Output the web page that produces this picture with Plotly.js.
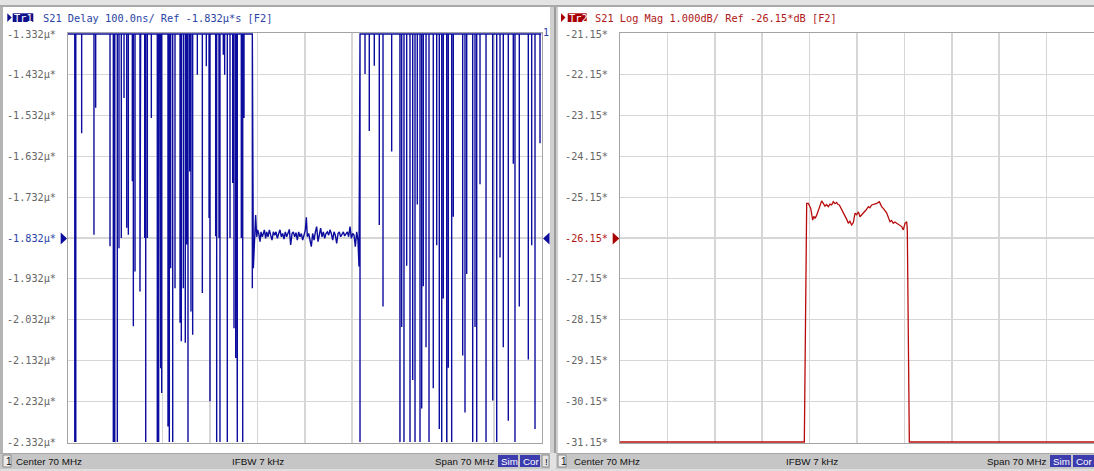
<!DOCTYPE html>
<html><head><meta charset="utf-8">
<script src="https://cdn.plot.ly/plotly-3.0.1.min.js"></script>
<style>html,body{margin:0;padding:0;background:#fff;overflow:hidden}#chart{width:1094px;height:471px}</style>
</head><body><div id="chart"></div><script>
// ---------------- data ----------------
const freqStart = 35, freqStop = 105;           // MHz (Center 70 MHz, Span 70 MHz)
const freqGrid = [35, 42, 49, 56, 63, 70, 77, 84, 91, 98, 105];

// Trace 1 : S21 group delay (µs), display clipped to [-2.332, -1.332]
const delayTicks = [-1.332, -1.432, -1.532, -1.632, -1.732, -1.832, -1.932, -2.032, -2.132, -2.232, -2.332];
const delayTickLabels = ['-1.332µ*', '-1.432µ*', '-1.532µ*', '-1.632µ*', '-1.732µ*', '-1.832µ*', '-1.932µ*', '-2.032µ*', '-2.132µ*', '-2.232µ*', '-2.332µ*'];
const delayRef = -1.832;
const delayTop = -1.332, delayBottom = -2.332;

// spikes of the noisy delay below the passband (trace sits on the top clip level between them)
const spikeFreqLeft = [36.00, 36.15, 37.02, 38.84, 39.09, 41.21, 41.70, 41.90, 42.29, 42.54, 42.88, 43.28, 43.68, 43.92, 44.51, 44.66, 44.91, 45.64, 45.74, 46.34, 46.49, 46.73, 47.32, 48.20, 48.40, 48.60, 48.70, 48.85, 49.78, 49.98, 50.18, 50.48, 50.82, 51.56, 51.75, 52.05, 52.34, 52.54, 52.74, 52.99, 53.18, 53.43, 54.12, 54.86, 55.45, 55.85, 55.99, 56.83, 56.98, 57.32, 57.47, 57.96, 58.16, 58.55, 58.95, 59.35, 59.54, 59.79, 59.94, 60.03, 60.62, 60.83, 61.02, 62.25];
const spikeDelayLeft = [-2.332, -2.332, -1.575, -1.824, -1.513, -1.852, -2.332, -2.332, -2.332, -1.857, -1.832, -1.489, -1.807, -1.824, -1.693, -2.048, -1.914, -1.963, -1.648, -1.832, -2.332, -1.832, -1.538, -2.332, -2.332, -1.718, -2.151, -2.212, -2.294, -2.332, -1.906, -2.332, -1.955, -2.040, -2.085, -1.955, -2.089, -1.848, -2.332, -1.669, -2.012, -2.069, -1.432, -1.967, -1.411, -1.783, -2.232, -1.828, -2.332, -1.832, -2.332, -1.383, -1.432, -2.332, -1.832, -1.697, -2.053, -2.126, -1.771, -2.332, -1.832, -2.332, -1.538, -1.955];

// passband delay
const passFreq = [62.40, 62.55, 62.74, 62.89, 63.04, 63.19, 63.39, 63.53, 63.73, 63.88, 64.03, 64.22, 64.37, 64.57, 64.77, 64.96, 65.16, 65.36, 65.55, 65.75, 65.95, 66.15, 66.34, 66.54, 66.74, 66.93, 67.13, 67.33, 67.53, 67.72, 67.92, 68.12, 68.31, 68.51, 68.71, 68.90, 69.10, 69.30, 69.50, 69.69, 69.89, 70.09, 70.24, 70.38, 70.58, 70.78, 70.97, 71.17, 71.37, 71.57, 71.76, 71.96, 72.16, 72.35, 72.55, 72.75, 72.95, 73.14, 73.34, 73.54, 73.73, 73.93, 74.13, 74.33, 74.52, 74.72, 74.92, 75.11, 75.31, 75.51, 75.71, 75.90, 76.10, 76.30, 76.49, 76.69, 76.89, 77.09, 77.28, 77.48, 77.68, 77.87, 78.02];
const passDelay = [-1.906, -1.837, -1.776, -1.829, -1.812, -1.821, -1.841, -1.817, -1.829, -1.821, -1.812, -1.833, -1.817, -1.829, -1.812, -1.825, -1.837, -1.817, -1.825, -1.817, -1.833, -1.821, -1.812, -1.829, -1.821, -1.835, -1.817, -1.829, -1.821, -1.811, -1.849, -1.821, -1.817, -1.829, -1.819, -1.837, -1.817, -1.829, -1.821, -1.837, -1.825, -1.812, -1.781, -1.829, -1.821, -1.837, -1.853, -1.821, -1.837, -1.817, -1.804, -1.841, -1.821, -1.808, -1.829, -1.817, -1.833, -1.821, -1.817, -1.825, -1.812, -1.821, -1.837, -1.817, -1.825, -1.845, -1.821, -1.817, -1.829, -1.821, -1.817, -1.827, -1.821, -1.817, -1.829, -1.804, -1.833, -1.821, -1.825, -1.853, -1.817, -1.837, -1.902];

// spikes above the passband
const spikeFreqRight = [78.17, 78.91, 79.54, 80.28, 81.02, 81.57, 82.85, 84.08, 84.33, 84.67, 85.07, 85.56, 85.96, 86.30, 86.64, 87.04, 87.29, 87.53, 87.93, 88.37, 89.00, 89.51, 89.89, 90.25, 90.48, 90.99, 91.22, 91.72, 91.96, 93.35, 93.69, 93.94, 94.83, 95.17, 95.42, 95.91, 96.80, 97.79, 98.38, 98.87, 99.35, 100.09, 100.83, 101.08, 101.72, 103.05, 103.55, 104.04, 104.78];
const spikeDelayRight = [-2.332, -1.430, -1.570, -1.410, -1.800, -2.000, -1.620, -2.332, -2.050, -2.332, -1.900, -2.332, -2.180, -2.332, -1.750, -2.332, -2.250, -1.950, -2.100, -2.332, -2.200, -1.850, -2.300, -2.332, -1.980, -2.332, -2.150, -2.332, -1.780, -2.120, -2.260, -1.920, -2.332, -2.050, -2.332, -1.700, -2.332, -2.230, -2.332, -1.880, -2.100, -2.280, -1.650, -2.332, -2.000, -2.130, -1.850, -2.300, -1.600];

// Trace 2 : S21 log magnitude (dB), display clipped at -31.15
const magTicks = [-21.15, -22.15, -23.15, -24.15, -25.15, -26.15, -27.15, -28.15, -29.15, -30.15, -31.15];
const magTickLabels = ['-21.15*', '-22.15*', '-23.15*', '-24.15*', '-25.15*', '-26.15*', '-27.15*', '-28.15*', '-29.15*', '-30.15*', '-31.15*'];
const magRef = -26.15;
const magFreq = [35, 62.22, 62.57, 62.81, 63.16, 63.46, 63.62, 63.80, 64.05, 64.30, 64.53, 64.78, 65.02, 65.27, 65.50, 65.76, 66.02, 66.26, 66.50, 66.75, 67.00, 67.20, 67.39, 67.70, 67.98, 68.23, 68.50, 68.72, 68.95, 69.21, 69.46, 69.71, 69.95, 70.20, 70.45, 70.70, 70.94, 71.30, 71.68, 71.90, 72.17, 72.55, 72.91, 73.30, 73.64, 74.00, 74.39, 74.87, 75.10, 75.36, 75.60, 75.86, 76.20, 76.60, 76.84, 77.09, 77.34, 77.43, 77.73, 105];
const magDb = [-31.15, -31.15, -25.30, -25.30, -25.42, -25.71, -25.62, -25.67, -25.59, -25.47, -25.34, -25.24, -25.30, -25.37, -25.33, -25.38, -25.32, -25.34, -25.26, -25.31, -25.28, -25.33, -25.34, -25.44, -25.51, -25.63, -25.70, -25.79, -25.74, -25.83, -25.77, -25.54, -25.58, -25.51, -25.63, -25.58, -25.54, -25.47, -25.38, -25.41, -25.34, -25.32, -25.30, -25.26, -25.38, -25.45, -25.54, -25.75, -25.72, -25.79, -25.76, -25.79, -25.83, -25.87, -25.95, -25.79, -25.75, -25.95, -31.15, -31.15];

// ---------------- build traces ----------------
const dX = [freqStart], dY = [delayTop];
function addSpikes(fs, vs) {
  for (let i = 0; i < fs.length; i++) { dX.push(fs[i], fs[i], fs[i]); dY.push(delayTop, vs[i], delayTop); }
}
addSpikes(spikeFreqLeft, spikeDelayLeft);
for (let i = 0; i < passFreq.length; i++) { dX.push(passFreq[i]); dY.push(passDelay[i]); }
addSpikes(spikeFreqRight, spikeDelayRight);
dX.push(freqStop); dY.push(delayTop);

const BLUE = '#0c0c9e', BLUE_T = '#2a44a6', RED = '#b80c0c', RED_T = '#b01818';
const W = 1094, H = 471;
const px = x => x / W, py = y => 1 - y / H;

const traces = [
  {x: dX, y: dY, xaxis: 'x', yaxis: 'y', mode: 'lines', line: {color: BLUE, width: 1.4}, hoverinfo: 'skip'},
  {x: magFreq, y: magDb, xaxis: 'x2', yaxis: 'y2', mode: 'lines', line: {color: RED, width: 1.3}, hoverinfo: 'skip'}
];

const yDom = [(H - 443) / H, (H - 33) / H];
const dPad = (delayTop - delayBottom) / 408, mPad = 10 / 408;
const gridCol = '#d6d6d6', frameCol = '#a4a4a4';
const MONO = 'DejaVu Sans Mono';

function yax(ticks, labels, ref, refCol, lo, hi, pad, anchor) {
  return {
    domain: yDom, range: [lo - pad, hi + pad], anchor: anchor,
    tickmode: 'array', tickvals: ticks,
    ticktext: labels.map((t, i) => ticks[i] === ref ? '<span style="color:' + refCol + '">' + t + '</span>' : t),
    ticks: '', ticklabelstandoff: 9,
    tickfont: {family: MONO, size: 10.2, color: '#666'},
    showgrid: true, gridcolor: gridCol, gridwidth: 1.2, zeroline: false,
    showline: true, mirror: true, linecolor: frameCol, linewidth: 1, fixedrange: true
  };
}
function xax(dom, anchor) {
  return {domain: dom, range: [freqStart, freqStop], anchor: anchor, tickmode: 'array', tickvals: freqGrid,
    showticklabels: false, ticks: '', showgrid: true, gridcolor: gridCol, gridwidth: 1.5, zeroline: false,
    showline: true, mirror: true, linecolor: frameCol, linewidth: 1, fixedrange: true};
}

function rect(x0, x1, y0, y1, fill, line) {
  return {type: 'rect', xref: 'paper', yref: 'paper', x0: px(x0), x1: px(x1), y0: py(y1), y1: py(y0),
    fillcolor: fill, line: line ? {color: line, width: 1} : {width: 0}, layer: 'below'};
}
function tri(xa, xb, yc, h, color) { // points from xa to xb
  return {type: 'path', xref: 'paper', yref: 'paper',
    path: `M ${px(xa)} ${py(yc - h)} L ${px(xb)} ${py(yc)} L ${px(xa)} ${py(yc + h)} Z`,
    fillcolor: color, line: {width: 0}, layer: 'above'};
}
function txt(x, y, s, opts) {
  opts = opts || {};
  return Object.assign({xref: 'paper', yref: 'paper', x: px(x), y: py(y), text: s, showarrow: false,
    xanchor: 'left', yanchor: 'middle', borderpad: 0,
    font: {family: opts.family || MONO, size: opts.size || 10.3, color: opts.color || '#222'}}, opts.extra || {});
}

const shapes = [
  rect(0, 1094, 0, 5, '#e3e3e3'),
  rect(0, 1094, 5, 7, '#a9a9a9'),
  rect(0, 3, 7, 453, '#b4b4b4'),
  rect(550, 558, 7, 453, '#cfcfcf'),
  rect(554, 556, 7, 453, '#9c9c9c'),
  rect(0, 1094, 453, 469, '#c6c6c6'),
  rect(0, 1094, 469, 471, '#dedede'),
  rect(0, 1094, 453, 454, '#a8a8a8'),
  rect(550, 556, 453, 469, '#e2e2e2'),
  rect(3, 11, 455, 467, '#ececec', '#8a8a8a'),
  rect(558, 566, 455, 467, '#ececec', '#8a8a8a'),
  rect(498, 518, 455, 467, '#3c3cae'),
  rect(520, 540, 455, 467, '#3c3cae'),
  rect(542, 549, 455, 467, '#e4e4e4', '#8a8a8a'),
  rect(1050, 1071, 455, 467, '#3c3cae'),
  rect(1073, 1094, 455, 467, '#3c3cae'),
  // title markers
  tri(7.3, 11.7, 17.6, 4.4, '#10108a'),
  rect(12.7, 33.3, 13.3, 22, '#10108a'),
  tri(561, 565.5, 17.6, 4.4, '#a80000'),
  rect(567.7, 586.7, 13.3, 22, '#a80000'),
  // reference markers
  tri(60.7, 67, 238.5, 6, BLUE),
  tri(549.5, 543, 238.5, 6, BLUE),
  tri(612.7, 619.3, 238.5, 6, '#a80000')
];

const SANS = 'Liberation Sans';
const annotations = [
  txt(13.2, 17.8, 'Tr1', {color: '#ffffff', size: 10.3}),
  txt(42, 17.6, 'S21 Delay 100.0ns/ Ref -1.832µ*s [F2]', {color: BLUE_T}),
  txt(567.9, 17.8, 'Tr2', {color: '#ffffff', size: 10.3}),
  txt(594.3, 17.6, 'S21 Log Mag 1.000dB/ Ref -26.15*dB [F2]', {color: RED_T}),
  txt(541.5, 33, '1', {color: BLUE_T, size: 10}),
  txt(4.5, 461, '1', {family: SANS, size: 10, color: '#111'}),
  txt(15, 461, 'Center 70 MHz', {family: SANS, size: 9.8, color: '#111'}),
  txt(231, 461, 'IFBW 7 kHz', {family: SANS, size: 9.8, color: '#111'}),
  txt(434, 461, 'Span 70 MHz', {family: SANS, size: 9.8, color: '#111'}),
  txt(500, 461, 'Sim', {family: SANS, size: 9.8, color: '#ffffff'}),
  txt(522, 461, 'Cor', {family: SANS, size: 9.8, color: '#ffffff'}),
  txt(544, 461, '!', {family: SANS, size: 9.8, color: '#111'}),
  txt(559.5, 461, '1', {family: SANS, size: 10, color: '#111'}),
  txt(573, 461, 'Center 70 MHz', {family: SANS, size: 9.8, color: '#111'}),
  txt(785, 461, 'IFBW 7 kHz', {family: SANS, size: 9.8, color: '#111'}),
  txt(986, 461, 'Span 70 MHz', {family: SANS, size: 9.8, color: '#111'}),
  txt(1052, 461, 'Sim', {family: SANS, size: 9.8, color: '#ffffff'}),
  txt(1075, 461, 'Cor', {family: SANS, size: 9.8, color: '#ffffff'})
];

const layout = {
  width: W, height: H, autosize: false, margin: {l: 0, r: 0, t: 0, b: 0, pad: 0},
  paper_bgcolor: '#ffffff', plot_bgcolor: '#ffffff', showlegend: false,
  xaxis: xax([px(68), px(541.5)], 'y'),
  yaxis: yax(delayTicks, delayTickLabels, delayRef, BLUE_T, delayBottom, delayTop, dPad, 'x'),
  xaxis2: xax([px(620), 1], 'y2'),
  yaxis2: yax(magTicks, magTickLabels, magRef, RED_T, -31.15, -21.15, mPad, 'x2'),
  shapes: shapes, annotations: annotations
};
Plotly.newPlot('chart', traces, layout, {staticPlot: true, displayModeBar: false});
</script></body></html>
